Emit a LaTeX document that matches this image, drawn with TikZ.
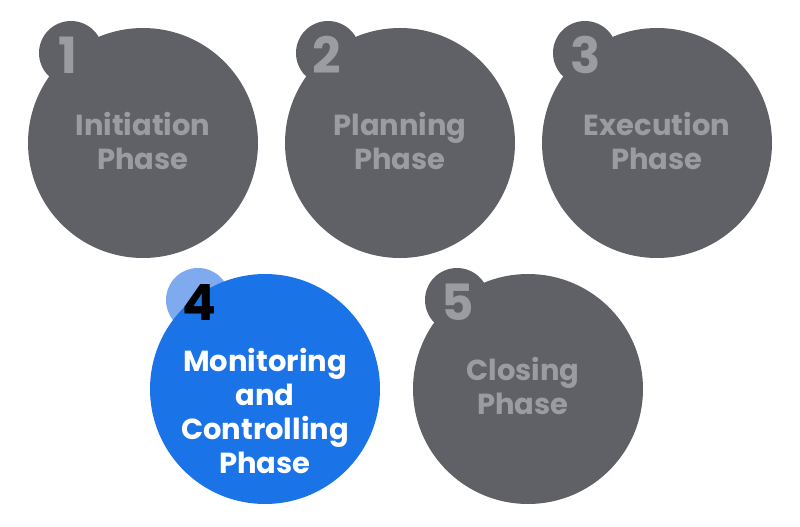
\documentclass[tikz,border=0pt]{standalone}
\usepackage{fontspec}
\setmainfont{Poppins}
\definecolor{phasegray}{HTML}{5F6166}
\definecolor{phasetext}{HTML}{9B9C9F}
\definecolor{phaseblue}{HTML}{1B73E8}
\definecolor{phaselight}{HTML}{7FAAF0}
\begin{document}
\begin{tikzpicture}[x=1pt,y=-1pt]
\tikzstyle{phase}=[circle, fill=phasegray, minimum size=230pt, inner sep=0pt];
\tikzstyle{badge}=[circle, fill=phasegray, minimum size=64pt, inner sep=0pt];
\tikzstyle{label}=[text=phasetext, font=\bfseries\fontsize{29}{34}\selectfont, align=center];
\tikzstyle{num}=[text=phasetext, font=\bfseries\fontsize{50}{50}\selectfont];
\useasboundingbox (0,0) rectangle (800,527);

\node[badge] (b1) at (71,53) {};
\node[badge] (b2) at (328,53) {};
\node[badge] (b3) at (585,53) {};
\node[badge] (b5) at (457,300) {};
\node[badge, fill=phaselight] (b4) at (198,300) {};

\node[phase] (p1) at (143,143) {};
\node[phase] (p2) at (400,143) {};
\node[phase] (p3) at (657,143) {};
\node[phase, fill=phaseblue] (p4) at (265,389) {};
\node[phase] (p5) at (528,389) {};

\node[num] (n1) at (68,55) {1};
\node[num] (n2) at (327,55) {2};
\node[num] (n3) at (586,55) {3};
\node[num, text=black] (n4) at (199,302) {4};
\node[num] (n5) at (458,302) {5};

\node[label] (l1) at (143,141) {Initiation\\Phase};
\node[label] (l2) at (400,141) {Planning\\Phase};
\node[label] (l3) at (657,141) {Execution\\Phase};
\node[label, text=white] (l4) at (265,411) {Monitoring\\and\\Controlling\\Phase};
\node[label] (l5) at (523,386) {Closing\\Phase};
\end{tikzpicture}
\end{document}
